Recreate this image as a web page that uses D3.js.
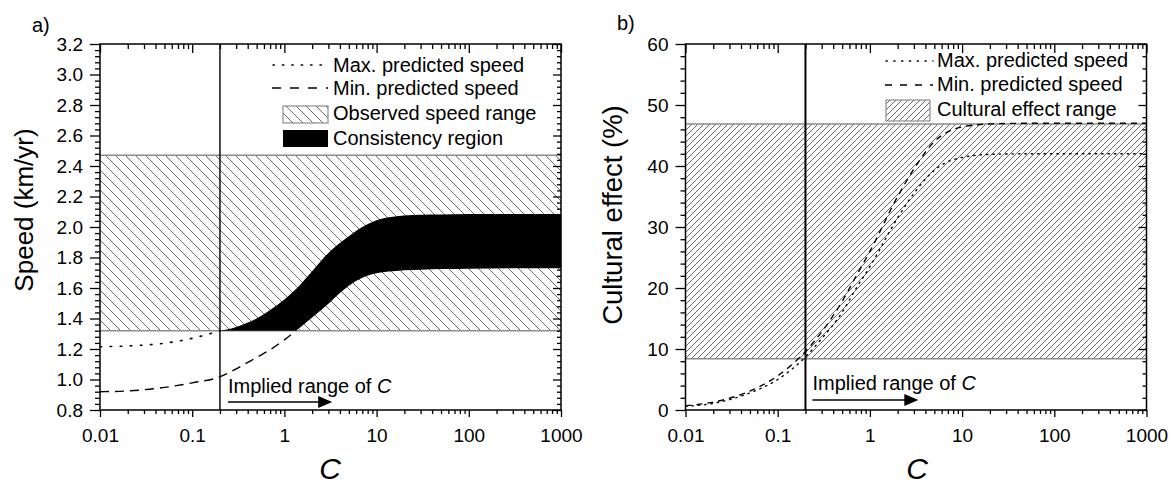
<!DOCTYPE html>
<html><head><meta charset="utf-8">
<script src="https://cdn.jsdelivr.net/npm/d3@7"></script>
<style>
body{margin:0;background:#fff;}
svg{display:block;font-family:"Liberation Sans",Arial,sans-serif;}
</style></head><body>
<svg id="c" width="1175" height="486"></svg>
<script>
// ---------- data ----------
const xTickValues = [0.01, 0.1, 1, 10, 100, 1000];
const xTickLabels = ["0.01", "0.1", "1", "10", "100", "1000"];
const speedTicks = [0.8, 1.0, 1.2, 1.4, 1.6, 1.8, 2.0, 2.2, 2.4, 2.6, 2.8, 3.0, 3.2];
const effectTicks = [0, 10, 20, 30, 40, 50, 60];

const cSpeed   = [0.01, 0.02, 0.05, 0.1, 0.2, 0.3, 0.5, 0.7, 1, 1.5, 2, 3, 4, 5, 7, 10, 15, 20, 30, 50, 100, 300, 1000];
const maxSpeed = [1.215, 1.22, 1.238, 1.27, 1.32, 1.345, 1.40, 1.455, 1.525, 1.625, 1.71, 1.83, 1.895, 1.94, 2.0, 2.045, 2.068, 2.075, 2.08, 2.082, 2.085, 2.085, 2.085];
const minSpeed = [0.92, 0.925, 0.948, 0.978, 1.018, 1.07, 1.145, 1.195, 1.26, 1.345, 1.407, 1.497, 1.568, 1.615, 1.668, 1.697, 1.71, 1.716, 1.72, 1.724, 1.727, 1.73, 1.73];
const observedRange = [1.32, 2.47];
const impliedC = 0.2;

const cEffect   = [0.01, 0.02, 0.05, 0.1, 0.2, 0.3, 0.5, 0.7, 1, 2, 3, 5, 7, 10, 20, 50, 100, 1000];
const minEffect = [0.7, 1.3, 3.1, 5.6, 9.6, 12.8, 17.8, 21.8, 26, 35, 39.5, 44, 45.6, 46.4, 46.9, 47, 47, 47];
const maxEffect = [0.6, 1.1, 2.8, 5.0, 8.7, 11.7, 16.0, 19.8, 23.5, 31.5, 35.5, 39.3, 40.7, 41.4, 41.9, 42, 42, 42];
const effectRange = [8.4, 46.9];

// ---------- setup ----------
const svg = d3.select("#c");
const FONT = '"Liberation Sans", Arial, sans-serif';
const plotTop = 44, plotBottom = 410;

const xL = d3.scaleLog().domain([0.01, 1000]).range([100, 561]);
const yL = d3.scaleLinear().domain([0.8, 3.2]).range([plotBottom, plotTop]);
const xR = d3.scaleLog().domain([0.01, 1000]).range([685.5, 1146.5]);
const yR = d3.scaleLinear().domain([0, 60]).range([plotBottom, plotTop]);

const defs = svg.append("defs");
const pL = defs.append("pattern").attr("id", "hatchL").attr("patternUnits", "userSpaceOnUse")
  .attr("width", 10).attr("height", 10);
pL.append("path").attr("d", "M-5,5 L5,15 M0,0 L10,10 M5,-5 L15,5")
  .attr("stroke", "#444").attr("stroke-width", 0.8).attr("fill", "none");
const pR = defs.append("pattern").attr("id", "hatchR").attr("patternUnits", "userSpaceOnUse")
  .attr("width", 6).attr("height", 6);
pR.append("path").attr("d", "M-3,3 L3,-3 M0,6 L6,0 M3,9 L9,3")
  .attr("stroke", "#444").attr("stroke-width", 0.8).attr("fill", "none");

function clip(id, x) {
  defs.append("clipPath").attr("id", id).append("rect")
    .attr("x", x.range()[0]).attr("y", plotTop)
    .attr("width", x.range()[1] - x.range()[0]).attr("height", plotBottom - plotTop);
}
clip("clipL", xL);
clip("clipR", xR);

const decades = [0.01, 0.1, 1, 10, 100];
const minorX = [];
decades.forEach(d => { for (let k = 2; k <= 9; k++) minorX.push(d * k); });

function styleAxis(g, fs) {
  g.select(".domain").remove();
  g.selectAll("line").attr("stroke", "#000").attr("stroke-width", 1.3);
  g.selectAll("text").attr("font-size", fs).attr("font-family", FONT).attr("fill", "#000");
}

function drawAxes(x, y, yTicks, yMinor, yFmt) {
  const x0 = x.range()[0], x1 = x.range()[1];
  const xfmt = d => xTickLabels[xTickValues.indexOf(d)];
  svg.append("g").attr("transform", `translate(0,${plotBottom})`)
    .call(d3.axisBottom(x).tickValues(xTickValues).tickFormat(xfmt).tickSize(7).tickPadding(12))
    .call(g => styleAxis(g, 19));
  svg.append("g").attr("transform", `translate(0,${plotBottom})`)
    .call(d3.axisBottom(x).tickValues(minorX).tickFormat("").tickSize(4))
    .call(g => styleAxis(g, 19));
  svg.append("g").attr("transform", `translate(0,${plotTop})`)
    .call(d3.axisTop(x).tickValues(xTickValues).tickFormat("").tickSize(-9))
    .call(g => styleAxis(g, 19));
  svg.append("g").attr("transform", `translate(0,${plotTop})`)
    .call(d3.axisTop(x).tickValues(minorX).tickFormat("").tickSize(-5))
    .call(g => styleAxis(g, 19));
  svg.append("g").attr("transform", `translate(${x0},0)`)
    .call(d3.axisLeft(y).tickValues(yTicks).tickFormat(yFmt).tickSize(10).tickPadding(7))
    .call(g => styleAxis(g, 19));
  svg.append("g").attr("transform", `translate(${x0},0)`)
    .call(d3.axisLeft(y).tickValues(yMinor).tickFormat("").tickSize(5))
    .call(g => styleAxis(g, 19));
  svg.append("g").attr("transform", `translate(${x1},0)`)
    .call(d3.axisRight(y).tickValues(yTicks).tickFormat("").tickSize(-8))
    .call(g => styleAxis(g, 19));
  svg.append("g").attr("transform", `translate(${x1},0)`)
    .call(d3.axisRight(y).tickValues(yMinor).tickFormat("").tickSize(-4))
    .call(g => styleAxis(g, 19));
  svg.append("rect").attr("x", x0).attr("y", plotTop).attr("width", x1 - x0).attr("height", plotBottom - plotTop)
    .attr("fill", "none").attr("stroke", "#000").attr("stroke-width", 1.5);
}

// ---------- panel a ----------
const gL = svg.append("g").attr("clip-path", "url(#clipL)");
gL.append("rect")
  .attr("x", xL(0.01)).attr("width", xL(1000) - xL(0.01))
  .attr("y", yL(observedRange[1])).attr("height", yL(observedRange[0]) - yL(observedRange[1]))
  .attr("fill", "url(#hatchL)");
observedRange.forEach(v => gL.append("line")
  .attr("x1", xL(0.01)).attr("x2", xL(1000)).attr("y1", yL(v)).attr("y2", yL(v))
  .attr("stroke", "#8c8c8c").attr("stroke-width", 1.5));

const speedData = cSpeed.map((c, i) => ({c, max: maxSpeed[i], min: minSpeed[i]}));
const consist = speedData.filter(d => d.c >= impliedC);

// region above the lower observed limit
defs.append("clipPath").attr("id", "clipAbove").append("rect")
  .attr("x", xL(impliedC)).attr("y", yL(observedRange[1]))
  .attr("width", xL(1000) - xL(impliedC)).attr("height", yL(observedRange[0]) - yL(observedRange[1]));
gL.append("g").attr("clip-path", "url(#clipAbove)").append("path").datum(consist)
  .attr("d", d3.area().curve(d3.curveMonotoneX)
    .x(d => xL(d.c))
    .y0(d => yL(d.min))
    .y1(d => yL(d.max)))
  .attr("fill", "#000");

gL.append("path").datum(speedData.filter(d => d.c <= impliedC))
  .attr("d", d3.line().curve(d3.curveMonotoneX).x(d => xL(d.c)).y(d => yL(d.max)))
  .attr("fill", "none").attr("stroke", "#000").attr("stroke-width", 1.6)
  .attr("stroke-dasharray", "1.6 8.5").attr("stroke-linecap", "round");

defs.append("clipPath").attr("id", "clipBelow").append("rect")
  .attr("x", xL(0.01)).attr("y", yL(observedRange[0]))
  .attr("width", xL(1000) - xL(0.01)).attr("height", plotBottom - yL(observedRange[0]));
gL.append("g").attr("clip-path", "url(#clipBelow)").append("path").datum(speedData)
  .attr("d", d3.line().curve(d3.curveMonotoneX).x(d => xL(d.c)).y(d => yL(d.min)))
  .attr("fill", "none").attr("stroke", "#000").attr("stroke-width", 1.4)
  .attr("stroke-dasharray", "9 6");

svg.append("line").attr("x1", xL(impliedC)).attr("x2", xL(impliedC)).attr("y1", plotTop).attr("y2", plotBottom)
  .attr("stroke", "#000").attr("stroke-width", 1.4);

drawAxes(xL, yL, speedTicks,
  d3.range(0, 61).filter(i => i % 5 !== 0).map(i => 0.8 + i * 0.04),
  d3.format(".1f"));

// ---------- panel b ----------
const gR = svg.append("g").attr("clip-path", "url(#clipR)");
gR.append("rect")
  .attr("x", xR(0.01)).attr("width", xR(1000) - xR(0.01))
  .attr("y", yR(effectRange[1])).attr("height", yR(effectRange[0]) - yR(effectRange[1]))
  .attr("fill", "url(#hatchR)");
effectRange.forEach(v => gR.append("line")
  .attr("x1", xR(0.01)).attr("x2", xR(1000)).attr("y1", yR(v)).attr("y2", yR(v))
  .attr("stroke", "#8c8c8c").attr("stroke-width", 1.5));

const effData = cEffect.map((c, i) => ({c, max: maxEffect[i], min: minEffect[i]}));
gR.append("path").datum(effData)
  .attr("d", d3.line().curve(d3.curveMonotoneX).x(d => xR(d.c)).y(d => yR(d.max)))
  .attr("fill", "none").attr("stroke", "#000").attr("stroke-width", 1.4)
  .attr("stroke-dasharray", "1.4 5").attr("stroke-linecap", "round");
gR.append("path").datum(effData)
  .attr("d", d3.line().curve(d3.curveMonotoneX).x(d => xR(d.c)).y(d => yR(d.min)))
  .attr("fill", "none").attr("stroke", "#000").attr("stroke-width", 1.4)
  .attr("stroke-dasharray", "6 5");

svg.append("line").attr("x1", xR(impliedC)).attr("x2", xR(impliedC)).attr("y1", plotTop).attr("y2", plotBottom)
  .attr("stroke", "#000").attr("stroke-width", 2);

drawAxes(xR, yR, effectTicks,
  d3.range(0, 31).filter(i => i % 5 !== 0).map(i => i * 2),
  d3.format("d"));

// ---------- texts ----------
function txt(x, y, s, fs, opts = {}) {
  const t = svg.append("text").attr("x", x).attr("y", y).attr("font-size", fs)
    .attr("font-family", FONT).attr("fill", "#000").text(s);
  if (opts.anchor) t.attr("text-anchor", opts.anchor);
  if (opts.italic) t.attr("font-style", "italic");
  if (opts.rotate) t.attr("transform", `rotate(-90,${x},${y})`);
  return t;
}
txt(32, 32, "a)", 20);
txt(617, 30, "b)", 20);
txt(33, 210, "Speed (km/yr)", 26, {anchor: "middle", rotate: true});
txt(622, 215, "Cultural effect (%)", 27.5, {anchor: "middle", rotate: true});
txt(330, 479, "C", 30, {anchor: "middle", italic: true});
txt(917, 479, "C", 30, {anchor: "middle", italic: true});

function implied(x, yText, yArrow, xEnd) {
  const t = svg.append("text").attr("x", x).attr("y", yText).attr("font-size", 20)
    .attr("font-family", FONT).attr("fill", "#000");
  t.append("tspan").text("Implied range of ");
  t.append("tspan").attr("font-style", "italic").text("C");
  svg.append("line").attr("x1", x).attr("x2", xEnd - 12).attr("y1", yArrow).attr("y2", yArrow)
    .attr("stroke", "#000").attr("stroke-width", 1.6);
  svg.append("path").attr("d", `M${xEnd - 14},${yArrow - 6} L${xEnd},${yArrow} L${xEnd - 14},${yArrow + 6} Z`)
    .attr("fill", "#000");
}
implied(xL(impliedC) + 8, 393, 402, xL(3.3));
implied(xR(impliedC) + 7, 390, 400, xR(3.35));

// ---------- legends ----------
function legLine(x1, x2, y, dash, w, round) {
  svg.append("line").attr("x1", x1).attr("x2", x2).attr("y1", y).attr("y2", y)
    .attr("stroke", "#000").attr("stroke-width", w).attr("stroke-dasharray", dash)
    .attr("stroke-linecap", round ? "round" : "butt");
}
legLine(273, 328, 65, "1.4 8", 1.5, true);
legLine(272, 328, 88, "9 9", 1.5, false);
svg.append("rect").attr("x", 283).attr("y", 106).attr("width", 45).attr("height", 17)
  .attr("fill", "url(#hatchL)").attr("stroke", "#8c8c8c").attr("stroke-width", 1.2);
svg.append("rect").attr("x", 283).attr("y", 130).attr("width", 45).attr("height", 17)
  .attr("fill", "#000");
txt(333, 72, "Max. predicted speed", 20);
txt(333, 95, "Min. predicted speed", 20);
txt(333, 120, "Observed speed range", 20);
txt(333, 145, "Consistency region", 20);

legLine(886, 933, 61, "1.3 6.5", 1.3, true);
legLine(885, 933, 85, "7 8", 1.5, false);
svg.append("rect").attr("x", 886).attr("y", 100).attr("width", 44).attr("height", 21)
  .attr("fill", "url(#hatchR)").attr("stroke", "#8c8c8c").attr("stroke-width", 1.2);
txt(937, 67, "Max. predicted speed", 20);
txt(937, 91, "Min. predicted speed", 20);
txt(937, 116, "Cultural effect range", 20);
</script>
</body></html>
